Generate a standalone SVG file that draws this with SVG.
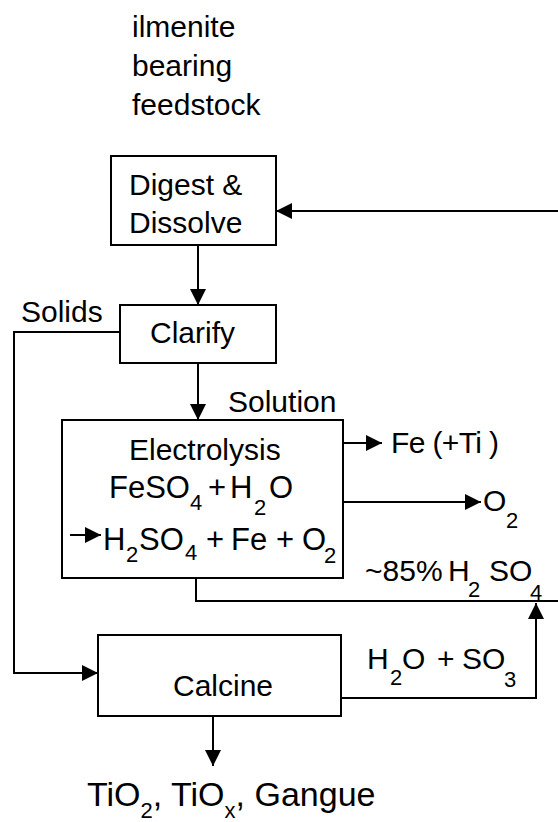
<svg xmlns="http://www.w3.org/2000/svg" width="558" height="822" viewBox="0 0 558 822">
<defs>
<style>
text{font-family:"Liberation Sans",Arial,Helvetica,sans-serif;fill:#000;font-size:30px}
.chem{font-size:31px}
.sub{font-size:22px}
.big{font-size:34px}
.box{fill:#fff;stroke:#000;stroke-width:2}
.ln{fill:none;stroke:#000;stroke-width:2}
</style>
<marker id="ah" markerUnits="userSpaceOnUse" markerWidth="16" markerHeight="16" viewBox="0 0 16 16" refX="16" refY="8" orient="auto">
<path d="M0,0 L16,8 L0,16 z" fill="#000"/>
</marker>
</defs>
<rect width="558" height="822" fill="#fff"/>

<g id="connectors">
<path class="ln" d="M558,211 L276,211" marker-end="url(#ah)"/>
<path class="ln" d="M198,245 L198,305" marker-end="url(#ah)"/>
<path class="ln" d="M198,363 L198,420" marker-end="url(#ah)"/>
<path class="ln" d="M120,332 L14,332 L14,673 L98,673" marker-end="url(#ah)"/>
<path class="ln" d="M343,443 L382,443" marker-end="url(#ah)"/>
<path class="ln" d="M343,502 L481,502" marker-end="url(#ah)"/>
<path class="ln" d="M196,578 L196,601 L558,601"/>
<path class="ln" d="M341,698 L536,698 L536,603" marker-end="url(#ah)"/>
<path class="ln" d="M213,716 L213,766" marker-end="url(#ah)"/>
</g>

<g id="feed">
<text x="132" y="37">ilmenite</text>
<text x="132" y="76">bearing</text>
<text x="132" y="115">feedstock</text>
</g>

<g id="digest">
<rect class="box" x="111" y="156" width="165" height="89"/>
<text x="129" y="195">Digest &amp;</text>
<text x="129" y="233">Dissolve</text>
</g>

<g id="clarify">
<rect class="box" x="120" y="305" width="156" height="58"/>
<text x="150" y="343">Clarify</text>
</g>

<g id="electrolysis">
<rect class="box" x="62" y="420" width="281" height="158"/>
<text x="129" y="460">Electrolysis</text>
<text class="chem"><tspan x="109" y="498">FeSO</tspan><tspan class="sub" x="190" y="510">4</tspan><tspan x="208" y="498">+</tspan><tspan x="230" y="498">H</tspan><tspan class="sub" x="254" y="515">2</tspan><tspan x="269" y="498">O</tspan></text>
<path class="ln" d="M70,535 L101,535" marker-end="url(#ah)"/>
<text class="chem"><tspan x="103" y="550">H</tspan><tspan class="sub" x="126" y="562">2</tspan><tspan x="139" y="550">SO</tspan><tspan class="sub" x="185" y="560">4</tspan><tspan x="206" y="550">+</tspan><tspan x="231" y="550">Fe</tspan><tspan x="276" y="550">+</tspan><tspan x="302" y="550">O</tspan><tspan class="sub" x="324" y="563">2</tspan></text>
</g>

<g id="calcine">
<rect class="box" x="98" y="635" width="243" height="81"/>
<text x="173" y="696">Calcine</text>
</g>

<g id="labels">
<text x="21" y="322">Solids</text>
<text x="228" y="412">Solution</text>
<text x="391" y="453" textLength="108" lengthAdjust="spacing">Fe (+Ti )</text>
<text><tspan x="483" y="511">O</tspan><tspan class="sub" x="506" y="528">2</tspan></text>
<text><tspan x="365" y="581">~85%</tspan><tspan x="448" y="581">H</tspan><tspan class="sub" x="468" y="597">2</tspan><tspan x="489" y="581">SO</tspan><tspan class="sub" x="530" y="600">4</tspan></text>
<text><tspan x="367" y="669">H</tspan><tspan class="sub" x="390" y="685">2</tspan><tspan x="402" y="669">O</tspan><tspan x="437" y="669">+</tspan><tspan x="462" y="669">SO</tspan><tspan class="sub" x="504" y="687">3</tspan></text>
<text class="big" x="87" y="806">TiO<tspan class="sub" dy="12">2</tspan><tspan dy="-12">, TiO</tspan><tspan class="sub" dy="12">x</tspan><tspan dy="-12">, Gangue</tspan></text>
</g>
</svg>
